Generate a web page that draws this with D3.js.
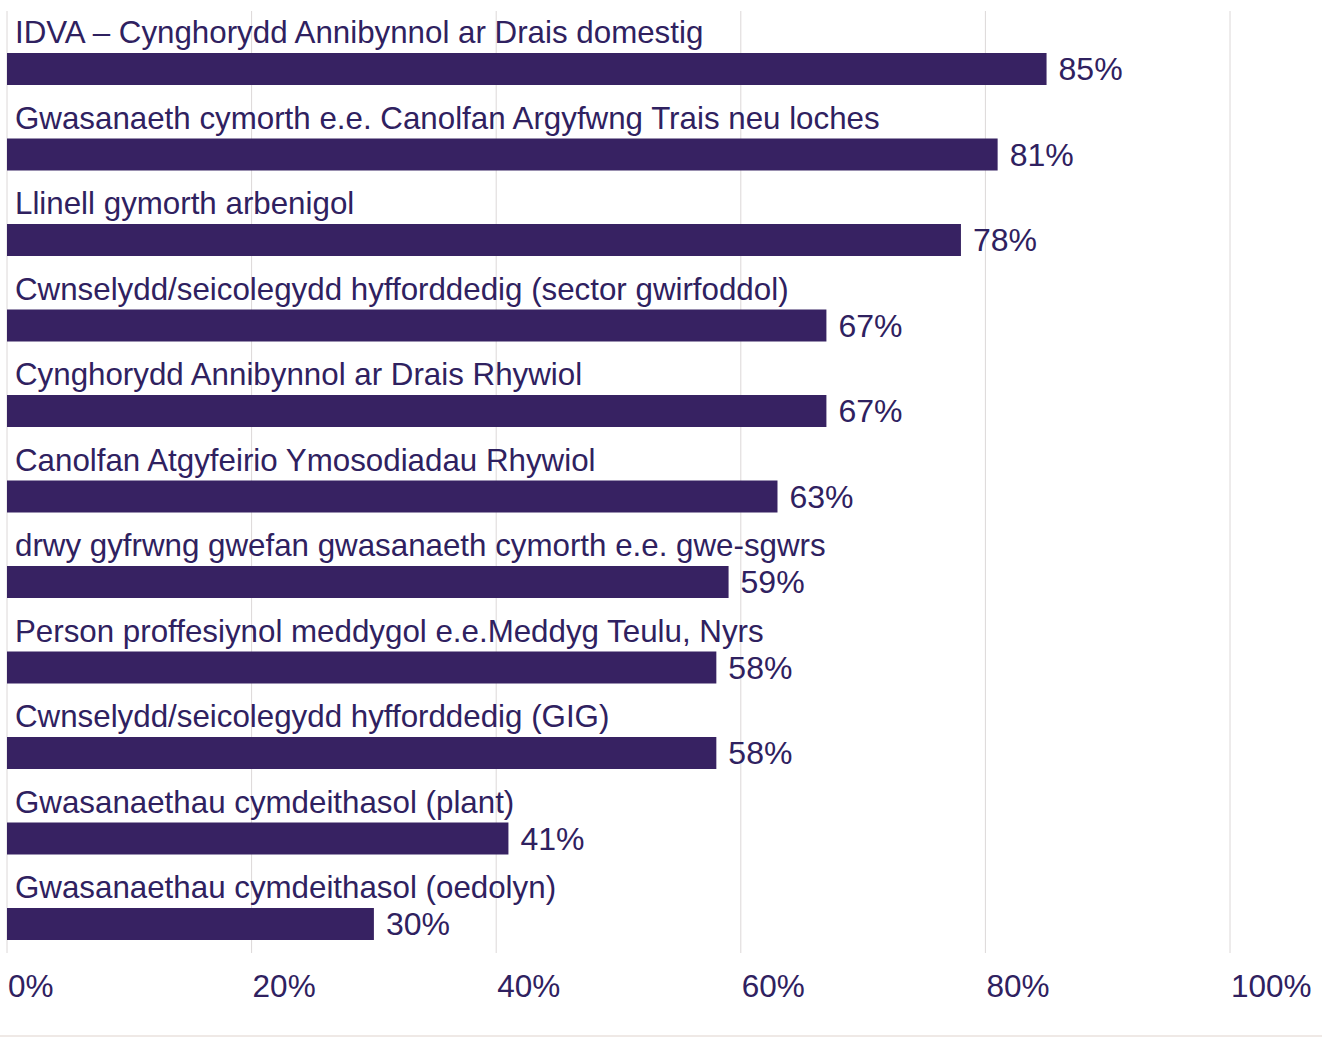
<!DOCTYPE html>
<html>
<head>
<meta charset="utf-8">
<script src="https://cdn.jsdelivr.net/npm/d3@7"></script>
<style>
  body { margin: 0; background: #fff; }
  svg text { font-family: "Liberation Sans", Arial, sans-serif; fill: #2f2160; }
</style>
</head>
<body>
<div id="chart"></div>
<script>
var categories = [
	"IDVA – Cynghorydd Annibynnol ar Drais domestig",
	"Gwasanaeth cymorth e.e. Canolfan Argyfwng Trais neu loches",
	"Llinell gymorth arbenigol",
	"Cwnselydd/seicolegydd hyfforddedig (sector gwirfoddol)",
	"Cynghorydd Annibynnol ar Drais Rhywiol",
	"Canolfan Atgyfeirio Ymosodiadau Rhywiol",
	"drwy gyfrwng gwefan gwasanaeth cymorth e.e. gwe-sgwrs",
	"Person proffesiynol meddygol e.e.Meddyg Teulu, Nyrs",
	"Cwnselydd/seicolegydd hyfforddedig (GIG)",
	"Gwasanaethau cymdeithasol (plant)",
	"Gwasanaethau cymdeithasol (oedolyn)"
];
var values = [85, 81, 78, 67, 67, 63, 59, 58, 58, 41, 30];
var tickValues = [0, 20, 40, 60, 80, 100];

function barChart() {
	var width = 1322;
	var height = 1038;

	var svg = d3.select('#chart')
		.append('svg')
		.attr('width', width)
		.attr('height', height);

	var x = d3.scaleLinear().domain([0, 100]).range([7, 1230]);
	var y = d3.scaleBand().domain(categories).range([11, 11 + categories.length * 85.5]);
	var barTop = 42, barH = 32;

	// gridlines
	svg.selectAll('line.grid')
		.data(tickValues)
		.enter().append('line')
		.attr('class', 'grid')
		.attr('x1', function(d) { return x(d); })
		.attr('x2', function(d) { return x(d); })
		.attr('y1', 11)
		.attr('y2', 953)
		.attr('stroke', '#dcd8d8')
		.attr('stroke-width', 1);

	var rows = svg.selectAll('g.row')
		.data(categories)
		.enter().append('g')
		.attr('class', 'row')
		.attr('transform', function(d) { return 'translate(0,' + y(d) + ')'; });

	rows.append('rect')
		.attr('x', x(0))
		.attr('y', barTop)
		.attr('width', function(d, i) { return x(values[i]) - x(0); })
		.attr('height', barH)
		.attr('fill', '#372262');

	rows.append('text')
		.attr('x', x(0) + 8)
		.attr('y', barTop - 10)
		.style('font-size', '31.3px')
		.text(function(d) { return d; });

	rows.append('text')
		.attr('x', function(d, i) { return x(values[i]) + 12; })
		.attr('y', barTop + barH - 5)
		.style('font-size', '32px')
		.text(function(d, i) { return values[i] + '%'; });

	// axis labels
	svg.selectAll('text.tick')
		.data(tickValues)
		.enter().append('text')
		.attr('class', 'tick')
		.attr('x', function(d) { return x(d) + 1; })
		.attr('y', 997)
		.style('font-size', '31.5px')
		.text(function(d) { return d + '%'; });

	svg.append('line')
		.attr('x1', 0).attr('x2', width)
		.attr('y1', 1036).attr('y2', 1036)
		.attr('stroke', '#efe9e6')
		.attr('stroke-width', 2);
}

barChart();
</script>
</body>
</html>
